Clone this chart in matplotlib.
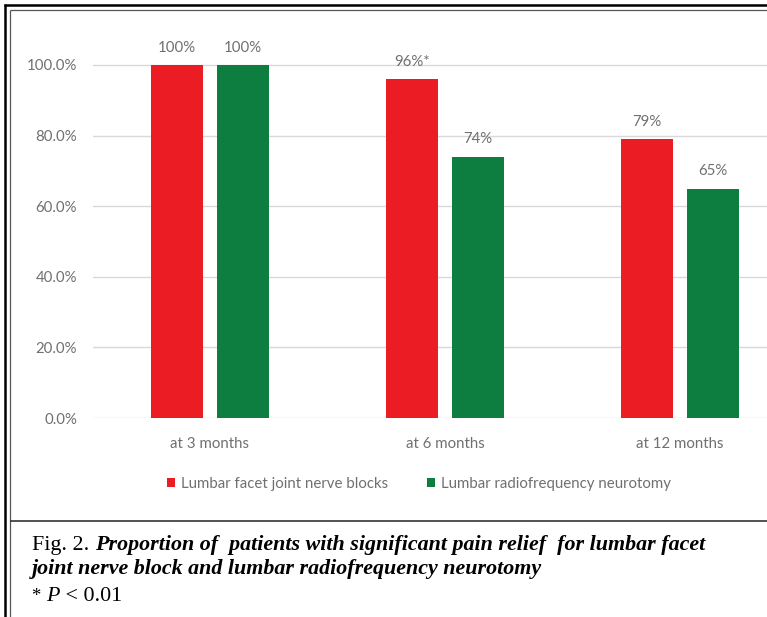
import matplotlib
matplotlib.use("Agg")
import matplotlib.pyplot as plt
from matplotlib.lines import Line2D
from matplotlib.patches import Patch
import numpy as np

# Data
categories = ["at 3 months", "at 6 months", "at 12 months"]
series_names = ["Lumbar facet joint nerve blocks", "Lumbar radiofrequency neurotomy"]
nerve_blocks = [100, 96, 79]
neurotomy = [100, 74, 65]
nerve_block_labels = ["100%", "96%*", "79%"]
neurotomy_labels = ["100%", "74%", "65%"]
y_ticks = [0, 20, 40, 60, 80, 100]
y_tick_labels = ["0.0%", "20.0%", "40.0%", "60.0%", "80.0%", "100.0%"]

RED = "#EC1C24"
GREEN = "#0E7D40"
TEXT_GRAY = "#707070"
GRID = "#d9d9d9"
FS = 10.8

W, H = 767, 617
fig = plt.figure(figsize=(W / 100, H / 100), dpi=100)
fig.patch.set_facecolor("white")

def fx(px):
    return px / W

def fy(py):
    return 1 - py / H

plt.rcParams["font.family"] = ["Lato", "DejaVu Sans"]

# Axes placement: 0% at y=418px, 100% at y=65px, category pitch 235px
y0_px, y100_px = 418, 65
ymax = 110
top_px = y0_px - (y0_px - y100_px) * ymax / 100
left_px, right_px = 92.5, 797.5
ax = fig.add_axes([fx(left_px), fy(y0_px), (right_px - left_px) / W, (y0_px - top_px) / H])
ax.set_xlim(-0.5, 2.5)
ax.set_ylim(0, ymax)

x = np.arange(len(categories))
bw = 52 / 235
off = 33 / 235
b1 = ax.bar(x - off, nerve_blocks, bw, color=RED, zorder=3, label=series_names[0])
b2 = ax.bar(x + off, neurotomy, bw, color=GREEN, zorder=3, label=series_names[1])

for bars, labels in ((b1, nerve_block_labels), (b2, neurotomy_labels)):
    for rect, lab in zip(bars, labels):
        ax.annotate(lab, (rect.get_x() + rect.get_width() / 2, rect.get_height()),
                    xytext=(0, 7.5), textcoords="offset points", ha="center", va="bottom",
                    fontsize=FS, color=TEXT_GRAY, annotation_clip=False)

ax.set_yticks(y_ticks)
ax.set_yticklabels(y_tick_labels)
ax.set_xticks(x)
ax.set_xticklabels(categories)
ax.tick_params(axis="both", length=0, labelsize=FS, labelcolor=TEXT_GRAY)
ax.tick_params(axis="y", pad=11)
ax.tick_params(axis="x", pad=14)
ax.grid(axis="y", color=GRID, linewidth=1.0, zorder=0)
for s in ax.spines.values():
    s.set_visible(False)
ax.set_facecolor("white")

# Legend
handles = [Patch(facecolor=RED, edgecolor="none"), Patch(facecolor=GREEN, edgecolor="none")]
fig.legend(handles, series_names, loc="center", bbox_to_anchor=(fx(419), fy(484)),
           ncol=2, frameon=False, fontsize=FS, labelcolor=TEXT_GRAY,
           handlelength=0.55, handleheight=0.55, handletextpad=0.4, columnspacing=2.6)

# Frame lines
def hline(y, x0, x1, lw, color):
    fig.add_artist(Line2D([fx(x0), fx(x1)], [fy(y), fy(y)], lw=lw, color=color,
                          transform=fig.transFigure, solid_capstyle="butt"))

def vline(x_, y0, y1, lw, color):
    fig.add_artist(Line2D([fx(x_), fx(x_)], [fy(y0), fy(y1)], lw=lw, color=color,
                          transform=fig.transFigure, solid_capstyle="butt"))

hline(5, 4, W, 1.8, "black")
vline(5, 4, H, 1.8, "black")
hline(9.5, 9.5, W, 0.9, "#555555")
vline(10, 9.5, H, 0.9, "#555555")
hline(520.5, 10, W, 1.2, "#333333")

# Caption
serif = "Liberation Serif"
fs = 15.8
renderer = fig.canvas.get_renderer()

def run(parts, x_px, y_px):
    xpos = fx(x_px)
    for txt, style, weight, size in parts:
        t = fig.text(xpos, fy(y_px), txt, family=serif, fontsize=size, style=style,
                     weight=weight, color="black", va="baseline", ha="left")
        bb = t.get_window_extent(renderer=renderer)
        xpos = bb.x1 / W

run([("Fig. 2. ", "normal", "normal", fs),
     ("Proportion of  patients with significant pain relief  for lumbar facet", "italic", "bold", fs)],
    32, 550)
run([("joint nerve block and lumbar radiofrequency neurotomy", "italic", "bold", fs)], 32, 574)
run([("* ", "normal", "normal", fs * 0.85), ("P", "italic", "normal", fs),
     (" < 0.01", "normal", "normal", fs)], 32, 601)

fig.savefig("out.png", dpi=100, facecolor="white")
